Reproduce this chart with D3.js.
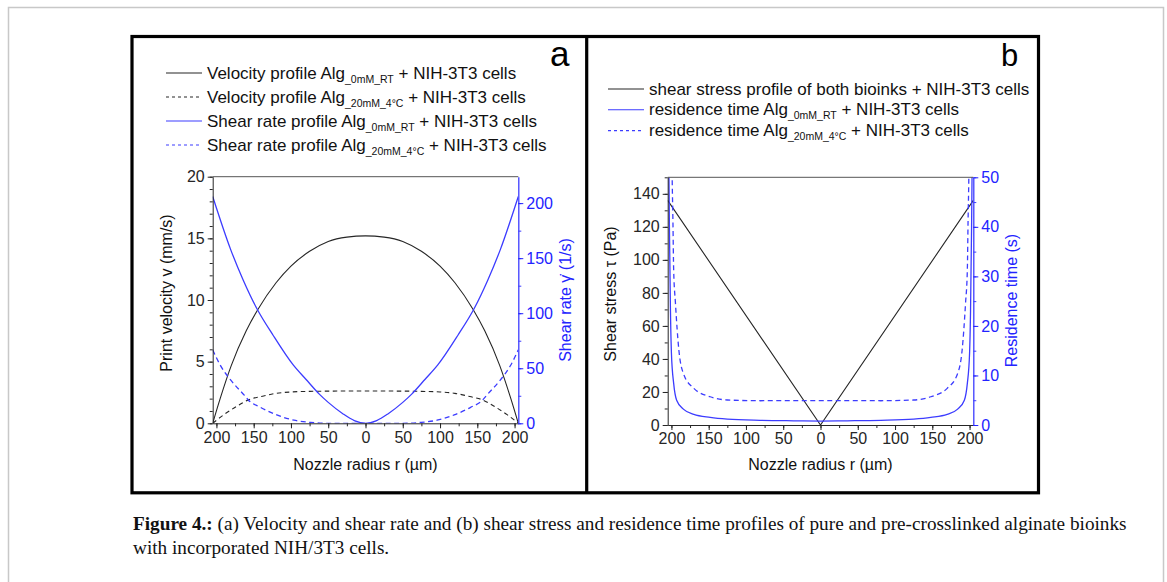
<!DOCTYPE html>
<html>
<head>
<meta charset="utf-8">
<title>Figure 4: velocity, shear rate, shear stress and residence time profiles</title>
<script src="https://cdn.jsdelivr.net/npm/d3@7/dist/d3.min.js"></script>
<style>
  body { margin: 0; background: #fff; }
  svg text { font-family: "Liberation Sans", Arial, sans-serif; }
  svg text.caption { font-family: "Liberation Serif", "Times New Roman", serif; }
</style>
</head>
<body>
<script>
// ---- data (half profiles r >= 0, the plot is symmetric) ----
var xDomain = [-205, 205];
var xTicks = [-200, -150, -100, -50, 0, 50, 100, 150, 200];

// panel a : print velocity (mm/s) and shear rate (1/s)
var velRT_r   = [0, 25, 50, 75, 100, 120, 144, 160, 180, 195, 205];
var velRT     = [15.2, 15.1, 14.75, 13.95, 12.75, 11.4, 9.27, 7.5, 4.7, 2.0, 0];
var vel4C_r   = [0, 50, 75, 100, 120, 140, 157, 172, 190, 205];
var vel4C     = [2.62, 2.61, 2.59, 2.54, 2.43, 2.17, 1.9, 1.4, 0.7, 0];
var shearRT_r = [0, 15, 30, 50, 62, 80, 97, 124, 146, 164, 181, 205];
var shearRT   = [0, 2.5, 8.5, 19, 26.5, 40, 53, 80, 104.5, 130, 158, 206];
var shear4C_r = [0, 50, 74, 96, 119, 141, 157, 163, 181, 195, 205];
var shear4C   = [0, 0, 0.8, 2.8, 7.6, 14.5, 21, 25.8, 39.4, 53, 66.7];
var velTicks = [0, 5, 10, 15, 20];
var shearRateTicks = [0, 50, 100, 150, 200];

// panel b : shear stress (Pa) and residence time (s)
var stress_r  = [0, 205];
var stress    = [0, 136];
var resRT_r   = [0, 36, 81, 125, 148, 170, 184, 193, 197, 200, 201.3, 202.7, 203.6];
var resRT     = [0.8, 0.85, 0.95, 1.2, 1.55, 2.15, 3.2, 5, 8.4, 14.5, 23, 40, 55];
var res4C_r   = [0, 81, 125, 148, 170, 184, 190, 194.6, 197, 198, 199, 199.6];
var res4C     = [4.91, 4.9, 5.05, 5.7, 7.4, 10.4, 15.1, 24.6, 31.3, 41.4, 50, 58];
var stressTicks = [0, 20, 40, 60, 80, 100, 120, 140];
var resTicks = [0, 10, 20, 30, 40, 50];

var BLACK = "#262626", BLUE = "#3c3cff", BLUE_TXT = "#2323ff";

function mirror(r, v) {
  var pts = [];
  for (var i = r.length - 1; i > 0; i--) pts.push([-r[i], v[i]]);
  for (var j = 0; j < r.length; j++) pts.push([r[j], v[j]]);
  return pts;
}

var svg = d3.select("body").append("svg")
    .attr("width", 1167)
    .attr("height", 582);

// page frame and figure box
svg.append("path")
    .attr("d", "M8.5,590V7.5H1163.5V590")
    .attr("fill", "none").attr("stroke", "#c8c8c8").attr("stroke-width", 1.5);
svg.append("rect")
    .attr("x", 132).attr("y", 36.5).attr("width", 906.5).attr("height", 456.3)
    .attr("fill", "none").attr("stroke", "#000").attr("stroke-width", 3.2);
svg.append("line")
    .attr("x1", 586.7).attr("x2", 586.7).attr("y1", 36.5).attr("y2", 492.8)
    .attr("stroke", "#000").attr("stroke-width", 3.2);

var panels = [
  {
    id: "a", left: 212.7, right: 518.3, top: 176.7, bottom: 423.3,
    yl: [0, 20], ylTicks: velTicks, ylMinor: d3.range(0, 21, 1),
    yr: [0, 224], yrTicks: shearRateTicks, yrMinor: d3.range(0, 225, 25),
    ylTitle: "Print velocity v (mm/s)", ylTitleX: 172, ylTitleY: 293,
    yrTitle: "Shear rate \u03B3\u0307 (1/s)", yrTitleX: 571, yrTitleY: 300,
    letter: "a", letterX: 550, letterSize: 35,
    series: [
      { pts: mirror(velRT_r, velRT), axis: "l", color: BLACK, dash: null },
      { pts: mirror(vel4C_r, vel4C), axis: "l", color: BLACK, dash: "4.5,3.5" },
      { pts: mirror(shearRT_r, shearRT), axis: "r", color: BLUE, dash: null },
      { pts: mirror(shear4C_r, shear4C), axis: "r", color: BLUE, dash: "5,3.5" }
    ],
    legendX: 166, legendY: 78.5, legendStep: 24,
    legend: [
      { pre: "Velocity profile Alg", sub: "_0mM_RT", post: " + NIH-3T3 cells", color: BLACK, dash: null },
      { pre: "Velocity profile Alg", sub: "_20mM_4\u00B0C", post: " + NIH-3T3 cells", color: BLACK, dash: "3,3" },
      { pre: "Shear rate profile Alg", sub: "_0mM_RT", post: " + NIH-3T3 cells", color: BLUE, dash: null },
      { pre: "Shear rate profile Alg", sub: "_20mM_4\u00B0C", post: " + NIH-3T3 cells", color: BLUE, dash: "3,3" }
    ]
  },
  {
    id: "b", left: 667.7, right: 973.3, top: 177.3, bottom: 425,
    yl: [0, 150], ylTicks: stressTicks, ylMinor: d3.range(0, 151, 10),
    yr: [0, 50], yrTicks: resTicks, yrMinor: d3.range(0, 51, 5),
    ylTitle: "Shear stress \u03C4 (Pa)", ylTitleX: 616, ylTitleY: 294,
    yrTitle: "Residence time (s)", yrTitleX: 1017, yrTitleY: 300.5,
    letter: "b", letterX: 1001, letterSize: 31,
    series: [
      { pts: mirror(stress_r, stress), axis: "l", color: BLACK, dash: null, linear: true },
      { pts: mirror(resRT_r, resRT), axis: "r", color: BLUE, dash: null },
      { pts: mirror(res4C_r, res4C), axis: "r", color: BLUE, dash: "5,3.5" }
    ],
    legendX: 608, legendY: 94.5, legendStep: 20.8,
    legend: [
      { pre: "shear stress profile of both bioinks + NIH-3T3 cells", sub: "", post: "", color: BLACK, dash: null },
      { pre: "residence time Alg", sub: "_0mM_RT", post: " + NIH-3T3 cells", color: BLUE, dash: null },
      { pre: "residence time Alg", sub: "_20mM_4\u00B0C", post: " + NIH-3T3 cells", color: BLUE, dash: "3,3" }
    ]
  }
];

function styleAxis(g, color, size) {
  g.select(".domain").attr("stroke", color);
  g.selectAll(".tick line").attr("stroke", color);
  g.selectAll(".tick text").attr("fill", color).attr("font-size", size)
    .attr("font-family", "Liberation Sans, Arial, sans-serif");
}

panels.forEach(function (p) {
  var x = d3.scaleLinear().domain(xDomain).range([p.left, p.right]);
  var yl = d3.scaleLinear().domain(p.yl).range([p.bottom, p.top]);
  var yr = d3.scaleLinear().domain(p.yr).range([p.bottom, p.top]);

  svg.append("clipPath").attr("id", "clip_" + p.id)
    .append("rect")
    .attr("x", p.left).attr("y", p.top)
    .attr("width", p.right - p.left).attr("height", p.bottom - p.top);

  // curves
  var plot = svg.append("g").attr("clip-path", "url(#clip_" + p.id + ")");
  p.series.forEach(function (s) {
    var ys = s.axis === "l" ? yl : yr;
    var line = d3.line()
      .x(function (d) { return x(d[0]); })
      .y(function (d) { return ys(d[1]); })
      .curve(s.linear ? d3.curveLinear : d3.curveMonotoneX);
    plot.append("path")
      .datum(s.pts)
      .attr("d", line)
      .attr("fill", "none")
      .attr("stroke", s.color)
      .attr("stroke-width", s.color === BLUE ? 1.3 : 1.1)
      .attr("stroke-dasharray", s.dash);
  });

  // top frame line
  svg.append("line")
    .attr("x1", p.left).attr("x2", p.right).attr("y1", p.top).attr("y2", p.top)
    .attr("stroke", "#555").attr("stroke-width", 1);

  // minor ticks
  var mx = svg.append("g").attr("transform", "translate(0," + p.bottom + ")")
    .call(d3.axisBottom(x).tickValues(d3.range(-200, 201, 25)).tickSize(3).tickFormat(""));
  mx.select(".domain").remove(); styleAxis(mx, BLACK, 0);
  var ml = svg.append("g").attr("transform", "translate(" + p.left + ",0)")
    .call(d3.axisLeft(yl).tickValues(p.ylMinor).tickSize(3).tickFormat(""));
  ml.select(".domain").remove(); styleAxis(ml, BLACK, 0);
  var mr = svg.append("g").attr("transform", "translate(" + p.right + ",0)")
    .call(d3.axisRight(yr).tickValues(p.yrMinor).tickSize(3).tickFormat(""));
  mr.select(".domain").remove(); styleAxis(mr, BLUE, 0);

  // major axes
  var gx = svg.append("g").attr("transform", "translate(0," + p.bottom + ")")
    .call(d3.axisBottom(x).tickValues(xTicks).tickSize(5).tickSizeOuter(0).tickPadding(3)
      .tickFormat(function (d) { return Math.abs(d); }));
  styleAxis(gx, BLACK, 16);
  var gl = svg.append("g").attr("transform", "translate(" + p.left + ",0)")
    .call(d3.axisLeft(yl).tickValues(p.ylTicks).tickSize(5).tickSizeOuter(0).tickPadding(3));
  styleAxis(gl, BLACK, 16);
  var gr = svg.append("g").attr("transform", "translate(" + p.right + ",0)")
    .call(d3.axisRight(yr).tickValues(p.yrTicks).tickSize(5).tickSizeOuter(0).tickPadding(3));
  styleAxis(gr, BLUE_TXT, 16);
  gr.select(".domain").attr("stroke", BLUE).attr("stroke-width", 1.3);

  // axis titles
  svg.append("text")
    .attr("x", (p.left + p.right) / 2).attr("y", 469.5)
    .attr("text-anchor", "middle").attr("font-size", 16).attr("fill", "#111")
    .text("Nozzle radius r (\u00B5m)");
  svg.append("text")
    .attr("transform", "translate(" + p.ylTitleX + "," + p.ylTitleY + ") rotate(-90)")
    .attr("text-anchor", "middle").attr("font-size", 16).attr("fill", "#111")
    .text(p.ylTitle);
  svg.append("text")
    .attr("transform", "translate(" + p.yrTitleX + "," + p.yrTitleY + ") rotate(-90)")
    .attr("text-anchor", "middle").attr("font-size", 16).attr("fill", BLUE_TXT)
    .text(p.yrTitle);

  // panel letter
  svg.append("text")
    .attr("x", p.letterX).attr("y", 66)
    .attr("font-size", p.letterSize).attr("fill", "#000")
    .text(p.letter);

  // legend
  p.legend.forEach(function (e, i) {
    var by = p.legendY + i * p.legendStep;
    svg.append("line")
      .attr("x1", p.legendX).attr("x2", p.legendX + 36)
      .attr("y1", by - 5.5).attr("y2", by - 5.5)
      .attr("stroke", e.color).attr("stroke-width", 1.1)
      .attr("stroke-dasharray", e.dash);
    var t = svg.append("text")
      .attr("x", p.legendX + 41).attr("y", by)
      .attr("font-size", 17).attr("fill", "#111");
    t.append("tspan").text(e.pre);
    if (e.sub) {
      t.append("tspan").attr("font-size", 10.5).attr("dy", 4).text(e.sub);
      t.append("tspan").attr("dy", -4).text(e.post);
    }
  });
});

// caption
var cap1 = svg.append("text").attr("class", "caption")
  .attr("x", 133).attr("y", 530).attr("font-size", 18).attr("fill", "#111");
cap1.append("tspan").attr("font-weight", "bold").text("Figure 4.:");
cap1.append("tspan").text(" (a) Velocity and shear rate and (b) shear stress and residence time profiles of pure and pre-crosslinked alginate bioinks");
var cap2 = svg.append("text").attr("class", "caption")
  .attr("x", 133).attr("y", 554).attr("font-size", 18).attr("fill", "#111")
  .text("with incorporated NIH/3T3 cells.");

// fit caption size to the measured line width
var len = cap1.node().getComputedTextLength();
var fs = 18 * 994 / len;
cap1.attr("font-size", fs);
cap2.attr("font-size", fs);
</script>
</body>
</html>
